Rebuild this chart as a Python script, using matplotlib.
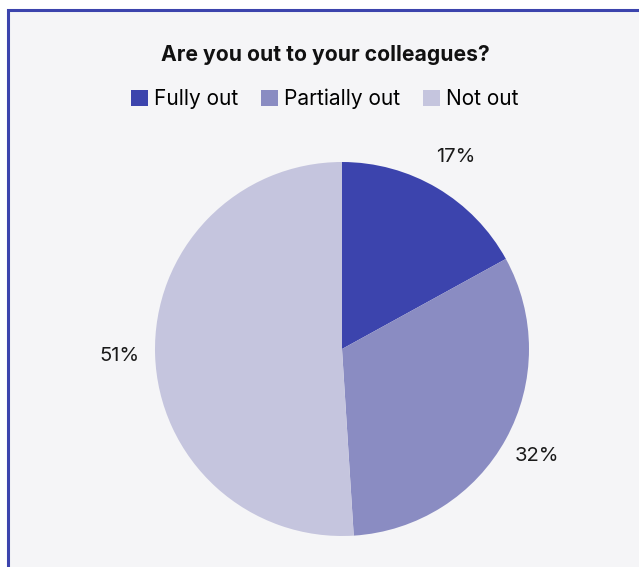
import matplotlib.pyplot as plt
from matplotlib.patches import Rectangle

labels = ['Fully out', 'Partially out', 'Not out']
shares = [17, 32, 51]
colors = ['#3c44ad', '#8a8cc2', '#c5c5de']

plt.rcParams['font.family'] = ['Inter', 'DejaVu Sans']

W, H = 639, 567
fig = plt.figure(figsize=(W / 100, H / 100), dpi=100)
fig.patch.set_facecolor('white')

# panel background with a blue frame on the left and top
fig.patches.append(Rectangle((8 / W, -0.1), 1.2, (H - 10) / H + 0.1,
                             transform=fig.transFigure, facecolor='#f5f5f7',
                             edgecolor='#3c44ad', linewidth=2.2, zorder=-10))

ax = fig.add_axes([155 / W, 31 / H, 374 / W, 374 / H])
wedges, texts = ax.pie(shares, colors=colors, startangle=90, counterclock=False,
                       labels=[f'{s}%' for s in shares], labeldistance=1.19,
                       textprops={'fontsize': 14.5, 'color': '#1a1a1a'},
                       wedgeprops={'linewidth': 0})
for t in texts:
    t.set_ha('center')
    t.set_va('center')
ax.set_xlim(-1, 1)
ax.set_ylim(-1, 1)
ax.set_aspect('equal')
ax.axis('off')

fig.text(325 / W, 1 - 55 / H, 'Are you out to your colleagues?',
         ha='center', va='center', fontsize=15.2, fontweight='bold', color='#111111')

handles = [Rectangle((0, 0), 1, 1, facecolor=c) for c in colors]
fig.legend(handles, labels, loc='center', bbox_to_anchor=(325 / W, 1 - 99 / H),
           ncol=3, frameon=False, fontsize=15, handlelength=0.8, handleheight=0.8,
           handletextpad=0.3, columnspacing=1.1)

fig.savefig('out.png', dpi=100)
